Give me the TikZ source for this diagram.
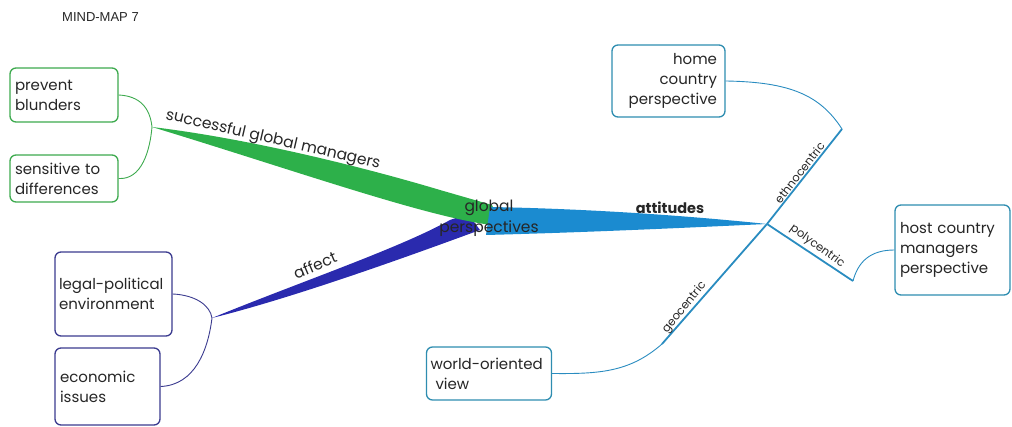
\documentclass[tikz,border=0pt]{standalone}
\usepackage{fontspec}
\setmainfont{Poppins}
\newfontfamily\arialfont{Liberation Sans}
\definecolor{gbox}{HTML}{3DAA4E}
\definecolor{gbr}{HTML}{2DB04A}
\definecolor{nbox}{HTML}{3B3B8F}
\definecolor{nbr}{HTML}{2A2AAE}
\definecolor{tbox}{HTML}{2E8DB0}
\definecolor{tbr}{HTML}{1B8BD0}
\definecolor{tline}{HTML}{2A8CC0}
\definecolor{txt}{HTML}{262626}
\begin{document}
\begin{tikzpicture}[x=1pt,y=-1pt,
  box/.style={draw, rounded corners=6pt, line width=1.3pt, fill=white,
    inner xsep=5pt, inner ysep=0pt, align=left, text=txt,
    font=\fontsize{15}{20}\selectfont},
  thin/.style={line width=0.9pt},
  lbl/.style={text=txt, font=\fontsize{15.5}{21}\selectfont, inner sep=1pt},
  smlbl/.style={text=txt, font=\fontsize{11.5}{13}\selectfont, inner sep=1pt}]
\useasboundingbox (0,0) rectangle (1012,427);

\node[text=txt, font=\arialfont\fontsize{13}{15}\selectfont, anchor=west, inner sep=0pt] (title) at (62,17) {MIND-MAP 7};

% junctions
\coordinate (J1) at (152,127);
\coordinate (J2) at (212,318);
\coordinate (J3) at (767,224);
\coordinate (E) at (842,129);
\coordinate (P) at (853,281);
\coordinate (G) at (662,344);

% tapered branches
\fill[nbr] (J2) .. controls (300,282) and (400,248) .. (450,220) -- (468,214) -- (480,230)
  .. controls (420,252) and (300,296) .. (J2);
\fill[gbr] (J1) .. controls (260,140) and (380,172) .. (440,190) -- (492,205) -- (502,226)
  .. controls (440,222) and (300,172) .. (J1);
\fill[tbr] (490,207) .. controls (600,209) and (700,217) .. (J3)
  .. controls (700,227) and (600,232) .. (486,235) -- cycle;

% boxes
\node[box, draw=gbox, text width=98pt, minimum height=54pt] (prevent) at (64,95) {prevent\\blunders};
\node[box, draw=gbox, text width=98pt, minimum height=47pt] (sens) at (64,178.5) {sensitive to\\differences};
\node[box, draw=nbox, text width=109pt, inner xsep=4pt, minimum height=84pt] (legal) at (113.5,294) {\mbox{legal-political}\\environment};
\node[box, draw=nbox, text width=95pt, minimum height=77pt] (econ) at (107.5,386.5) {economic\\issues};
\node[box, draw=tbox, text width=97pt, inner xsep=8pt, minimum height=72pt, align=right] (home) at (668.5,81) {home\\country\\perspective};
\node[box, draw=tbox, text width=105pt, minimum height=90pt] (host) at (952.5,250) {host country\\managers\\perspective};
\node[box, draw=tbox, text width=117pt, inner xsep=4pt, minimum height=53pt] (world) at (489,373.5) {world-oriented\\\ view};

% thin connectors
\draw[thin, gbox] (prevent.east) .. controls (140,96) and (150,108) .. (J1)
  .. controls (150,150) and (142,180) .. (sens.east);
\draw[thin, nbox] (legal.east) .. controls (195,295) and (210,305) .. (J2)
  .. controls (208,350) and (195,385) .. (econ.east);
\draw[tline, line width=1.8pt] (J3) -- (E);
\draw[tline, thin] (E) .. controls (820,95) and (790,82) .. (home.east);
\draw[tline, line width=1.8pt] (J3) -- (P);
\draw[tline, thin] (P) .. controls (858,262) and (870,250) .. (host.west);
\draw[tline, line width=1.8pt] (J3) -- (G);
\draw[tline, thin] (G) .. controls (630,372) and (600,374) .. (world.east);

% labels
\node[lbl, rotate=-13] (sgm) at (273,140) {successful global managers};
\node[lbl, rotate=23] (aff) at (315,265) {affect};
\node[lbl, font=\bfseries\fontsize{14.5}{16}\selectfont] (att) at (670,208) {attitudes};
\node[smlbl, rotate=52, anchor=south] (eth) at (804,176) {ethnocentric};
\node[smlbl, rotate=-36, anchor=south] (poly) at (813,252) {polycentric};
\node[smlbl, rotate=51, anchor=south] (geo) at (690,312) {geocentric};
\node[lbl, align=center] (glob) at (489,218) {global\\perspectives};
\end{tikzpicture}
\end{document}
